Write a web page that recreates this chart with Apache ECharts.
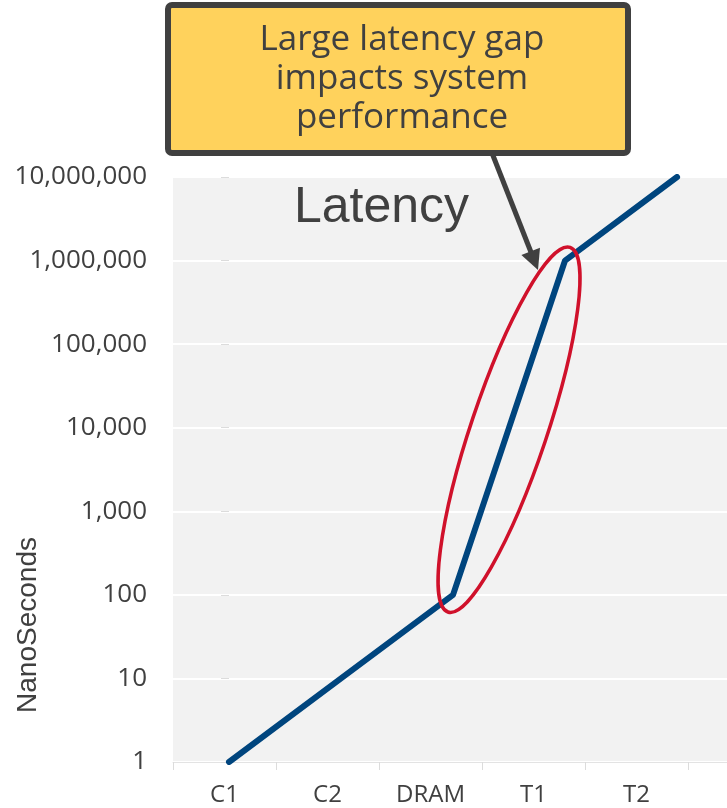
<!DOCTYPE html>
<html>
<head>
<meta charset="utf-8">
<script src="https://cdn.jsdelivr.net/npm/echarts@6/dist/echarts.min.js"></script>
<style>
  html, body { margin: 0; padding: 0; background: #fff; }
  #main { width: 727px; height: 808px; }
</style>
</head>
<body>
<div id="main"></div>
<script>
// data
var categories = ['C1', 'C2', 'DRAM', 'T1', 'T2'];
var latencyNs = [1, 10, 100, 1000000, 10000000];
var calloutLines = ['Large latency gap', 'impacts system', 'performance'];

var textColor = '#404040';
var myChart = echarts.init(document.getElementById('main'));

// the line's points sit a bit wider apart than the labels below them,
// so the line uses its own numeric x axis (category index)
var linePoints = latencyNs.map(function (v, i) { return [i, v]; });

myChart.setOption({
    animation: false,
    title: {
        text: 'Latency',
        left: 289,
        top: 178,
        textStyle: { fontFamily: 'Liberation Sans', fontSize: 50, fontWeight: 'normal', color: textColor }
    },
    grid: [
        { left: 173, right: 0, top: 177, bottom: 46, show: true, backgroundColor: '#f2f2f2', borderWidth: 0 },
        // grid used only for the category labels
        { left: 173, width: 515, top: 177, bottom: 46 }
    ],
    xAxis: [
        {
            type: 'value', gridIndex: 0, min: -0.5, max: 4.446,
            axisLine: { show: true, onZero: false, lineStyle: { color: '#e3e3e3', width: 1 } },
            axisTick: { show: false },
            axisLabel: { show: false },
            splitLine: { show: false }
        },
        {
            type: 'category', gridIndex: 1, data: categories,
            axisLine: { show: false },
            axisTick: { show: true, length: 8, lineStyle: { color: '#dcdcdc' } },
            axisLabel: { margin: 21, fontSize: 24, color: textColor, fontFamily: 'Open Sans' }
        }
    ],
    yAxis: [
        {
            type: 'log', gridIndex: 0, logBase: 10, min: 1, max: 10000000,
            axisLine: { show: false },
            axisTick: { show: true, length: 8, lineStyle: { color: '#dcdcdc' } },
            splitLine: { show: true, lineStyle: { color: '#ffffff', width: 2 } },
            axisLabel: {
                margin: 26, fontSize: 26, color: textColor, fontFamily: 'Open Sans',
                formatter: function (v) { return Math.round(v).toLocaleString('en-US'); }
            }
        },
        { type: 'value', gridIndex: 1, show: false }
    ],
    series: [{
        type: 'line',
        xAxisIndex: 0, yAxisIndex: 0,
        data: linePoints,
        symbol: 'none',
        lineStyle: { color: '#00457e', width: 6, cap: 'round', join: 'round' }
    }]
});

// annotations: ellipse round the DRAM -> T1 jump, callout box, arrow, axis name
var p1 = myChart.convertToPixel({ seriesIndex: 0 }, linePoints[2]);
var p2 = myChart.convertToPixel({ seriesIndex: 0 }, linePoints[3]);
var dx = p2[0] - p1[0], dy = p2[1] - p1[1];
var half = Math.sqrt(dx * dx + dy * dy) / 2;
var ang = Math.atan2(dx, -dy);

var arrowFrom = [492, 153], arrowTo = [538, 270];
var ax = arrowTo[0] - arrowFrom[0], ay = arrowTo[1] - arrowFrom[1];
var alen = Math.sqrt(ax * ax + ay * ay);
var ux = ax / alen, uy = ay / alen;
var headL = 20, headW = 10;
var base = [arrowTo[0] - ux * headL, arrowTo[1] - uy * headL];

myChart.setOption({
    graphic: [
        {
            type: 'ellipse',
            x: (p1[0] + p2[0]) / 2, y: (p1[1] + p2[1]) / 2 + 2,
            rotation: -ang,
            shape: { cx: 0, cy: 0, rx: 38, ry: half + 16 },
            style: { fill: 'none', stroke: '#d0112b', lineWidth: 3.5 },
            z: 100
        },
        {
            type: 'polyline',
            shape: { points: [arrowFrom, [base[0] + ux * 2, base[1] + uy * 2]] },
            style: { stroke: '#404040', lineWidth: 5, fill: 'none' },
            z: 100
        },
        {
            type: 'polygon',
            shape: { points: [arrowTo, [base[0] - uy * headW, base[1] + ux * headW], [base[0] + uy * headW, base[1] - ux * headW]] },
            style: { fill: '#404040' },
            z: 100
        },
        {
            type: 'rect',
            shape: { x: 168, y: 5, width: 460, height: 148, r: 4 },
            style: { fill: '#ffd25c', stroke: '#404040', lineWidth: 6 },
            z: 101
        },
        {
            type: 'text',
            x: 402, y: 79,
            style: {
                text: calloutLines.join('\n'),
                font: '35px "Open Sans"',
                fill: textColor,
                align: 'center',
                verticalAlign: 'middle',
                lineHeight: 39
            },
            z: 102
        },
        {
            type: 'text',
            x: 28, y: 625,
            rotation: Math.PI / 2,
            style: {
                text: 'NanoSeconds',
                font: '28px "Liberation Sans"',
                fill: textColor,
                align: 'center',
                verticalAlign: 'middle'
            },
            z: 100
        }
    ]
});
</script>
</body>
</html>
